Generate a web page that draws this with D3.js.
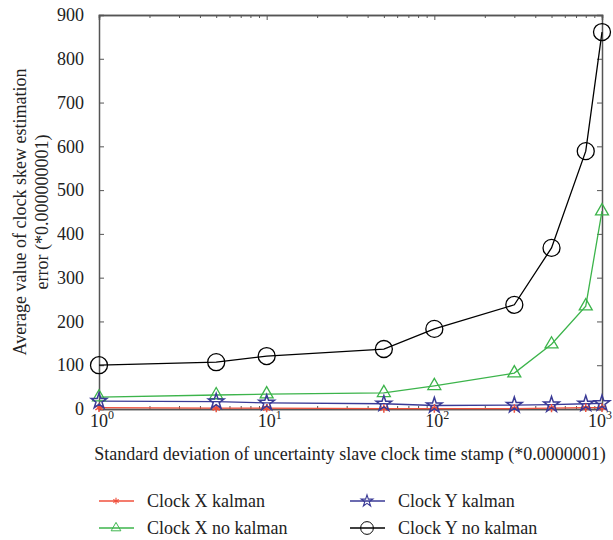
<!DOCTYPE html>
<html>
<head>
<meta charset="utf-8">
<script src="https://cdn.jsdelivr.net/npm/d3@7"></script>
<style>
  body { margin: 0; background: #fff; }
  text { font-family: "Liberation Serif", "DejaVu Serif", serif; fill: #222; }
</style>
</head>
<body>
<div id="chart"></div>
<script>
const xValues = [1, 5, 10, 50, 100, 300, 500, 800, 1000];
const clockXKalman = [3, 2, 2, 1, 1, 1, 2, 3, 3];
const clockYKalman = [18, 17, 14, 12, 8, 9, 10, 12, 13];
const clockXNoKalman = [27, 32, 34, 37, 53, 82, 148, 235, 452];
const clockYNoKalman = [100, 107, 121, 137, 183, 238, 368, 589, 861];
const yTicks = [0, 100, 200, 300, 400, 500, 600, 700, 800, 900];
const xTicks = [1, 10, 100, 1000];

const series = [
  { name: "Clock X kalman", values: clockXKalman, color: "#f0503c", marker: "asterisk" },
  { name: "Clock X no kalman", values: clockXNoKalman, color: "#3cb44b", marker: "triangle" },
  { name: "Clock Y kalman", values: clockYKalman, color: "#3a3a96", marker: "star" },
  { name: "Clock Y no kalman", values: clockYNoKalman, color: "#000000", marker: "circle" }
];

const width = 613, height = 540;
const margin = { top: 15, right: 11, bottom: 131, left: 99 };
const w = width - margin.left - margin.right;
const h = height - margin.top - margin.bottom;

const svg = d3.select("#chart").append("svg")
  .attr("width", width).attr("height", height);
const g = svg.append("g")
  .attr("transform", "translate(" + margin.left + "," + margin.top + ")");

const x = d3.scaleLog().domain([1, 1000]).range([0, w]);
const y = d3.scaleLinear().domain([0, 900]).range([h, 0]);

// minor ticks for log axis
const minor = [];
for (let d = 1; d < 1000; d *= 10) for (let k = 2; k <= 9; k++) minor.push(d * k);

const axisColor = "#555";
const tickLen = 5;

// bottom axis
const xb = g.append("g").attr("transform", "translate(0," + h + ")")
  .call(d3.axisBottom(x).tickValues(xTicks).tickSize(-tickLen).tickFormat(""));
xb.append("g").call(d3.axisBottom(x).tickValues(minor).tickSize(-3).tickFormat(""));
// top axis
const xt = g.append("g")
  .call(d3.axisTop(x).tickValues(xTicks).tickSize(-tickLen).tickFormat(""));
xt.append("g").call(d3.axisTop(x).tickValues(minor).tickSize(-3).tickFormat(""));
// left / right axis
const yl = g.append("g")
  .call(d3.axisLeft(y).tickValues(yTicks).tickSize(-tickLen).tickPadding(15));
const yr = g.append("g").attr("transform", "translate(" + w + ",0)")
  .call(d3.axisRight(y).tickValues(yTicks).tickSize(-tickLen).tickFormat(""));

g.selectAll(".domain").attr("stroke", axisColor).attr("stroke-width", 1.5);
g.selectAll(".tick line").attr("stroke", axisColor);
yl.selectAll("text").style("font-size", "18px")
  .style("font-family", "'Liberation Serif', serif").attr("fill", "#222");

// x tick labels 10^n (last one kept inside the page)
xTicks.forEach((t, i) => {
  const e = Math.round(Math.log10(t));
  const last = i === xTicks.length - 1;
  const tx = g.append("text")
    .attr("x", last ? w + 10 : x(t) + 3).attr("y", h + 18)
    .attr("text-anchor", last ? "end" : "middle")
    .style("font-size", "18px");
  tx.append("tspan").text("10");
  tx.append("tspan").attr("dy", -8).style("font-size", "12px").text(e);
});

// lines
const line = d3.line()
  .x((d, i) => x(xValues[i]))
  .y(d => y(d));

series.forEach(s => {
  g.append("path")
    .datum(s.values)
    .attr("fill", "none")
    .attr("stroke", s.color)
    .attr("stroke-width", 1.3)
    .attr("d", line);
});

function drawMarker(sel, type, color) {
  if (type === "circle") {
    sel.append("circle").attr("r", 8.5).attr("fill", "none")
      .attr("stroke", color).attr("stroke-width", 1.3);
  } else if (type === "triangle") {
    sel.append("path").attr("d", d3.symbol(d3.symbolTriangle2, 120)())
      .attr("fill", "none").attr("stroke", color).attr("stroke-width", 1.3);
  } else if (type === "star") {
    sel.append("path").attr("d", d3.symbol(d3.symbolStar, 75)())
      .attr("fill", "none").attr("stroke", color).attr("stroke-width", 1.5);
  } else {
    sel.append("path").attr("d", d3.symbol(d3.symbolAsterisk, 50)())
      .attr("fill", "none").attr("stroke", color).attr("stroke-width", 1.5);
  }
}

series.forEach(s => {
  g.selectAll(null)
    .data(s.values)
    .enter().append("g")
    .attr("transform", (d, i) => "translate(" + x(xValues[i]) + "," + y(d) + ")")
    .each(function () { drawMarker(d3.select(this), s.marker, s.color); });
});

// axis titles
svg.append("text")
  .attr("x", 350).attr("y", 460)
  .attr("text-anchor", "middle")
  .style("font-size", "18px")
  .text("Standard deviation of uncertainty slave clock time stamp (*0.0000001)");

const yTitle = svg.append("text")
  .attr("transform", "translate(26,212)rotate(-90)")
  .attr("text-anchor", "middle")
  .style("font-size", "18px");
yTitle.append("tspan").attr("x", 0).attr("dy", 0).text("Average value of clock skew estimation");
yTitle.append("tspan").attr("x", 0).attr("dy", 22).text("error (*0.000000001)");

// legend
const legendPos = [
  { x: 99, y: 501 }, { x: 99, y: 528 },
  { x: 350, y: 501 }, { x: 350, y: 528 }
];
series.forEach((s, i) => {
  const p = legendPos[i];
  const lg = svg.append("g").attr("transform", "translate(" + p.x + "," + p.y + ")");
  lg.append("line").attr("x1", 0).attr("x2", 35).attr("y1", 0).attr("y2", 0)
    .attr("stroke", s.color).attr("stroke-width", 1.3);
  drawMarker(lg.append("g").attr("transform", "translate(17,0)scale(0.75)"), s.marker, s.color);
  lg.append("text").attr("x", 48).attr("y", 6)
    .style("font-size", "18px").text(s.name);
});
</script>
</body>
</html>
